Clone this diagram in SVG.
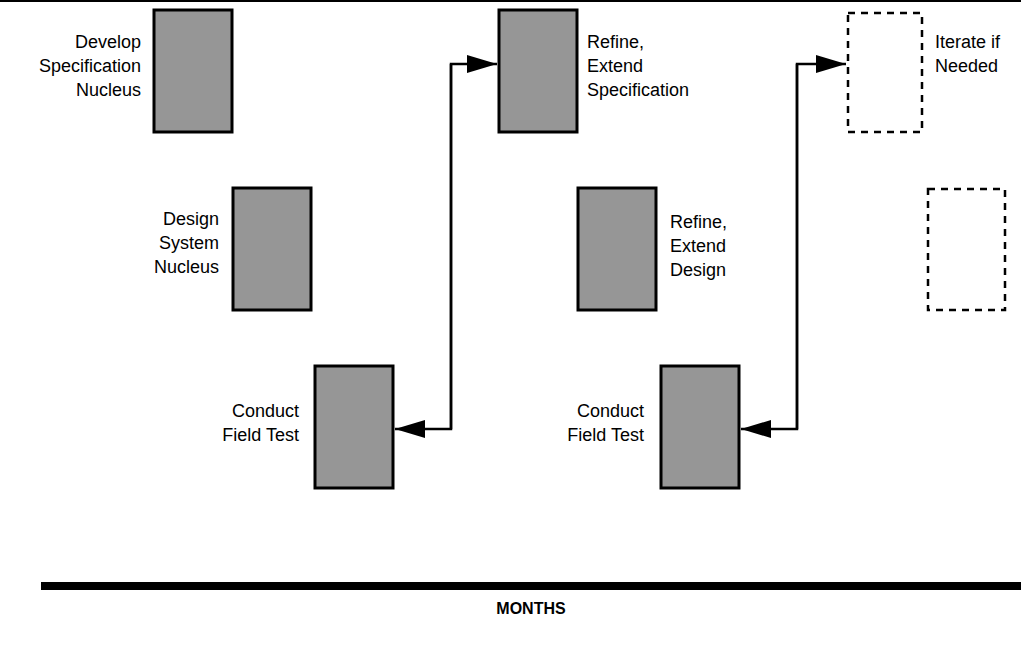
<svg xmlns="http://www.w3.org/2000/svg" width="1021" height="646" viewBox="0 0 1021 646">
<style>
.box{fill:#969696;stroke:#000;stroke-width:3}
.dash{fill:none;stroke:#000;stroke-width:2.5;stroke-dasharray:7 6}
.lbl{font-family:"Liberation Sans",Arial,sans-serif;font-size:18px;fill:#000}
.r{text-anchor:end}
.conn{fill:none;stroke:#000;stroke-width:2.5}
</style>
<defs>
<marker id="ah" viewBox="0 0 30 18" refX="30" refY="9" markerWidth="30" markerHeight="18" markerUnits="userSpaceOnUse" orient="auto">
<path d="M0,0 L30,9 L0,18 Z" fill="#000"/>
</marker>
</defs>
<rect width="1021" height="646" fill="#fff"/>
<line x1="0" y1="1" x2="1021" y2="1" stroke="#000" stroke-width="2"/>
<g id="n1"><rect class="box" x="154" y="10" width="78" height="122"/>
<text class="lbl r" x="141" y="48">Develop</text><text class="lbl r" x="141" y="72">Specification</text><text class="lbl r" x="141" y="96">Nucleus</text></g>
<g id="n2"><rect class="box" x="233" y="188" width="78" height="122"/>
<text class="lbl r" x="219" y="225">Design</text><text class="lbl r" x="219" y="249">System</text><text class="lbl r" x="219" y="273">Nucleus</text></g>
<g id="n3"><rect class="box" x="315" y="366" width="78" height="122"/>
<text class="lbl r" x="299" y="417">Conduct</text><text class="lbl r" x="299" y="441">Field Test</text></g>
<g id="n4"><rect class="box" x="499" y="10" width="78" height="122"/>
<text class="lbl" x="587" y="48">Refine,</text><text class="lbl" x="587" y="72">Extend</text><text class="lbl" x="587" y="96">Specification</text></g>
<g id="n5"><rect class="box" x="578" y="188" width="78" height="122"/>
<text class="lbl" x="670" y="228">Refine,</text><text class="lbl" x="670" y="252">Extend</text><text class="lbl" x="670" y="276">Design</text></g>
<g id="n6"><rect class="box" x="661" y="366" width="78" height="122"/>
<text class="lbl r" x="644" y="417">Conduct</text><text class="lbl r" x="644" y="441">Field Test</text></g>
<g id="n7"><rect class="dash" x="848" y="13" width="74" height="119"/>
<text class="lbl" x="935" y="48">Iterate if</text><text class="lbl" x="935" y="72">Needed</text></g>
<g id="n8"><rect class="dash" x="928" y="189" width="77" height="121"/></g>
<g id="connectors">
<path class="conn" d="M451,429 L451,64 L497,64" marker-end="url(#ah)"/>
<path class="conn" d="M451,64 L451,429 L395,429" marker-end="url(#ah)"/>
<path class="conn" d="M797,429 L797,64 L846,64" marker-end="url(#ah)"/>
<path class="conn" d="M797,64 L797,429 L741,429" marker-end="url(#ah)"/>
</g>
<rect x="41" y="582" width="980" height="8" fill="#000"/>
<text x="531" y="614" font-family="Liberation Sans,Arial,sans-serif" font-size="16" font-weight="bold" text-anchor="middle">MONTHS</text>
</svg>
